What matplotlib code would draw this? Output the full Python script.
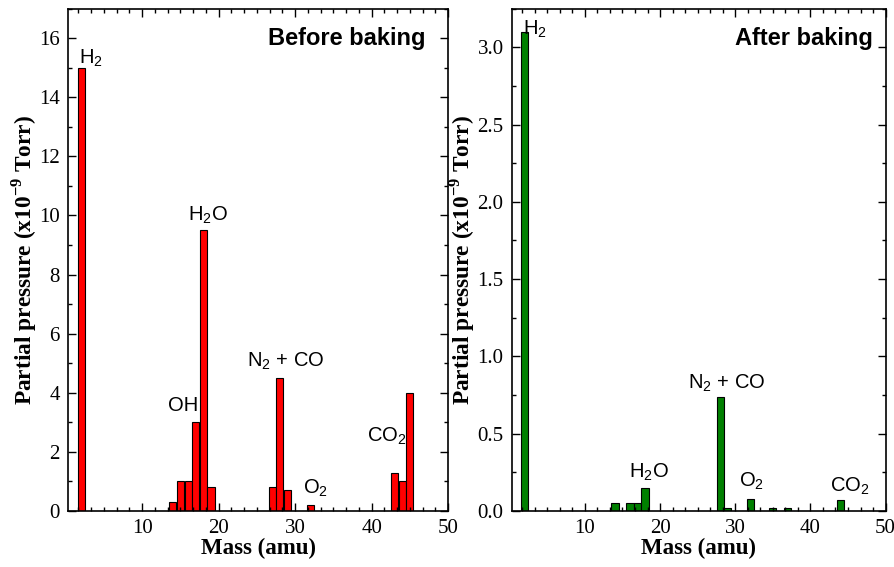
import matplotlib
matplotlib.use("Agg")
import matplotlib.pyplot as plt
from matplotlib.ticker import MultipleLocator, AutoMinorLocator, FormatStrFormatter

# mass (amu) and partial pressure (x1e-9 Torr)
before_mass = [2, 14, 15, 16, 17, 18, 19, 27, 28, 29, 32, 43, 44, 45]
before_p = [15.0, 0.3, 1.0, 1.0, 3.0, 9.5, 0.8, 0.8, 4.5, 0.7, 0.2, 1.3, 1.0, 4.0]

after_mass = [2, 14, 16, 17, 18, 28, 29, 32, 35, 37, 44]
after_p = [3.1, 0.05, 0.05, 0.05, 0.15, 0.74, 0.02, 0.08, 0.02, 0.02, 0.07]

# peak labels: (text, x, y of text bottom)
before_labels = [
    ("H$_2$", 3.3, 14.95),
    ("H$_2$O", 18.6, 9.65),
    ("OH", 15.4, 3.25),
    ("N$_2$ + CO", 28.7, 4.7),
    ("O$_2$", 32.6, 0.4),
    ("CO$_2$", 42.0, 2.15),
]
after_labels = [
    ("H$_2$", 3.3, 3.05),
    ("H$_2$O", 18.5, 0.18),
    ("N$_2$ + CO", 28.8, 0.76),
    ("O$_2$", 32.1, 0.12),
    ("CO$_2$", 45.2, 0.09),
]

serif = "Liberation Serif"
sans = "Liberation Sans"

plt.rcParams["mathtext.fontset"] = "custom"
plt.rcParams["mathtext.rm"] = sans
plt.rcParams["mathtext.it"] = sans
plt.rcParams["mathtext.bf"] = serif + ":bold"

fig = plt.figure(figsize=(8.95, 5.67), dpi=100)
ax1 = fig.add_axes([0.076, 0.0988, 0.4246, 0.886])
ax2 = fig.add_axes([0.572, 0.0988, 0.4175, 0.886])


def style_axis(ax, ymax, ymajor, title, title_x):
    ax.set_xlim(0.3, 50)
    ax.set_ylim(0, ymax)
    ax.xaxis.set_major_locator(MultipleLocator(10))
    ax.xaxis.set_minor_locator(AutoMinorLocator(6))
    ax.yaxis.set_major_locator(MultipleLocator(ymajor))
    ax.yaxis.set_minor_locator(AutoMinorLocator(2))
    ax.tick_params(which="both", direction="in", top=True, right=True, width=1)
    ax.tick_params(which="major", length=6, labelsize=15, pad=6)
    ax.tick_params(which="minor", length=3)
    ax.set_xticks([10, 20, 30, 40, 50])
    for s in ax.spines.values():
        s.set_linewidth(1.2)
    ax.set_xlabel("Mass (amu)", fontfamily=serif, fontweight="bold", fontsize=16.5, labelpad=0)
    ax.set_ylabel("Partial pressure (x10$^{\\mathbf{-9}}$ Torr)", fontfamily=serif,
                  fontweight="bold", fontsize=16.8, labelpad=0)
    ax.text(title_x, 0.94, title, transform=ax.transAxes, ha="right", va="center",
            fontfamily=sans, fontweight="bold", fontsize=17)
    for lab in ax.get_xticklabels() + ax.get_yticklabels():
        lab.set_fontfamily(serif)


ax1.bar(before_mass, before_p, width=0.92, color="#ff0000", edgecolor="black", linewidth=0.8)
style_axis(ax1, 17, 2, "Before baking", 0.94)
for t, x, y in before_labels:
    ax1.text(x, y, t, ha="center", va="bottom", fontfamily=sans, fontsize=14.5)

ax2.bar(after_mass, after_p, width=0.95, color="#008000", edgecolor="black", linewidth=0.8)
style_axis(ax2, 3.25, 0.5, "After baking", 0.965)
ax2.yaxis.set_major_formatter(FormatStrFormatter("%.1f"))
for t, x, y in after_labels:
    ax2.text(x, y, t, ha="center", va="bottom", fontfamily=sans, fontsize=14.5)

for ax in (ax1, ax2):
    for lab in ax.get_xticklabels() + ax.get_yticklabels():
        lab.set_fontfamily(serif)

fig.savefig("out.png", dpi=100)
